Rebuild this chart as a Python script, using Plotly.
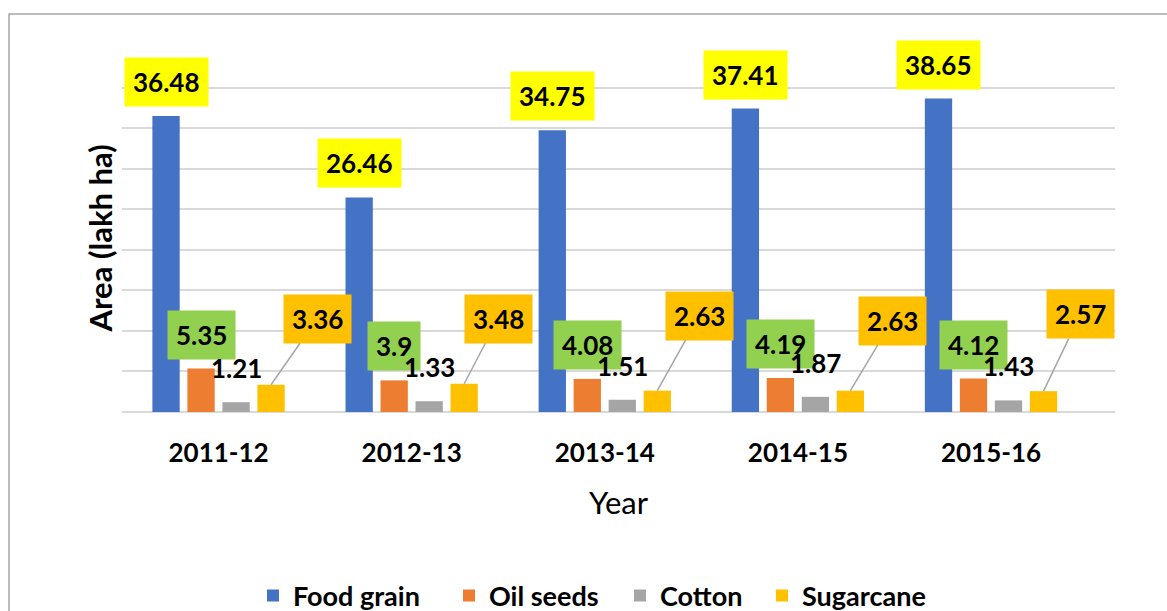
import plotly.graph_objects as go

# ---- data ----
years = ["2011-12", "2012-13", "2013-14", "2014-15", "2015-16"]
series_names = ["Food grain", "Oil seeds", "Cotton", "Sugarcane"]
food_grain = [36.48, 26.46, 34.75, 37.41, 38.65]
oil_seeds = [5.35, 3.9, 4.08, 4.19, 4.12]
cotton = [1.21, 1.33, 1.51, 1.87, 1.43]
sugarcane = [3.36, 3.48, 2.63, 2.63, 2.57]
y_title = "Area (lakh ha)"
x_title = "Year"

# ---- styles ----
bar_colors = ["#4472C4", "#ED7D31", "#A5A5A5", "#FFC000"]
label_bg = ["#FFFF00", "#92D050", None, "#FFC000"]
sugar_label_offsets = [(46, -66), (34, -65), (42, -75), (42, -70), (37, -77)]
legend_text_px = [293, 489, 660, 802]   # left edge of each legend entry's text
FONT = "Lato"
BARGAP = 0.275
BARGROUPGAP = 0.22
W, H = 1167, 611
ML, MR, MT, MB = 122, 52, 47, 199
PW, PH = W - ML - MR, H - MT - MB

all_series = [food_grain, oil_seeds, cotton, sugarcane]
legend_ids = ["legend", "legend2", "legend3", "legend4"]

fig = go.Figure()
for name, vals, col, lg in zip(series_names, all_series, bar_colors, legend_ids):
    fig.add_trace(go.Bar(name=name, x=years, y=vals, legend=lg, showlegend=True,
                         marker=dict(color=col, line=dict(width=0))))

annotations = []
slot = (1 - BARGAP) / len(series_names)
for k, vals in enumerate(all_series):
    for i, v in enumerate(vals):
        xpos = i + (k - (len(series_names) - 1) / 2) * slot
        txt = f"{v:g}"
        font = dict(family=FONT, size=26, color="#000000")
        if k == 3:
            dx, dy = sugar_label_offsets[i]
            annotations.append(dict(
                x=xpos, y=v, xref="x", yref="y", text=f"<b>{txt}</b>",
                showarrow=True, arrowhead=0, arrowwidth=1.5, arrowcolor="#A6A6A6",
                ax=dx, ay=dy, axref="pixel", ayref="pixel", standoff=0,
                bgcolor=label_bg[k], borderpad=8, font=font))
        else:
            annotations.append(dict(
                x=xpos, y=v, xref="x", yref="y", text=f"<b>{txt}</b>",
                showarrow=False, yshift=34, xanchor="center", yanchor="middle",
                bgcolor=label_bg[k] if label_bg[k] else "rgba(0,0,0,0)",
                borderpad=8 if label_bg[k] else 0, font=font))

# y-axis title
annotations.append(dict(
    x=(99 - ML) / PW, y=0.5, xref="paper", yref="paper", text=f"<b>{y_title}</b>",
    textangle=-90, showarrow=False, xanchor="center", yanchor="middle", yshift=-9,
    font=dict(family=FONT, size=31, color="#000000")))

legend_font = dict(family=FONT, size=27, color="#000000", weight="bold")
legends = {}
for lg, tx in zip(legend_ids, legend_text_px):
    legends[lg] = dict(orientation="h", x=(tx - 40 - ML) / PW, xanchor="left",
                       y=(H - MB - 596) / PH, yanchor="middle", visible=True,
                       font=legend_font, bgcolor="rgba(0,0,0,0)", borderwidth=0)

fig.update_layout(
    width=W, height=H, showlegend=True,
    margin=dict(l=ML, r=MR, t=MT, b=MB, autoexpand=False),
    paper_bgcolor="white", plot_bgcolor="white",
    barmode="group", bargap=BARGAP, bargroupgap=BARGROUPGAP,
    font=dict(family=FONT, color="#000000"),
    annotations=annotations,
    xaxis=dict(type="category", showgrid=False, showline=False, zeroline=False,
               ticks="outside", ticklen=18, tickcolor="rgba(0,0,0,0)",
               tickfont=dict(family=FONT, size=26, color="#000000", weight="bold"),
               title=dict(text=x_title, font=dict(family=FONT, size=31, color="#000000"),
                          standoff=25)),
    yaxis=dict(range=[0, 45], dtick=5, showticklabels=False, showgrid=True,
               gridcolor="#D9D9D9", gridwidth=1.8, zeroline=True, zerolinecolor="#D9D9D9",
               zerolinewidth=1.8, showline=False),
    shapes=[dict(type="rect", xref="paper", yref="paper",
                 x0=(9 - ML) / PW, x1=(W + 10 - ML) / PW,
                 y0=-(H + 10 - (H - MB)) / PH, y1=((H - MB) - 14) / PH,
                 line=dict(color="#A6A6A6", width=1.5), fillcolor="rgba(0,0,0,0)", layer="below")],
    **legends,
)

fig.write_html("out.html", config={"displayModeBar": False},
               post_script="document.body.style.margin='0';document.body.style.overflow='hidden';")
